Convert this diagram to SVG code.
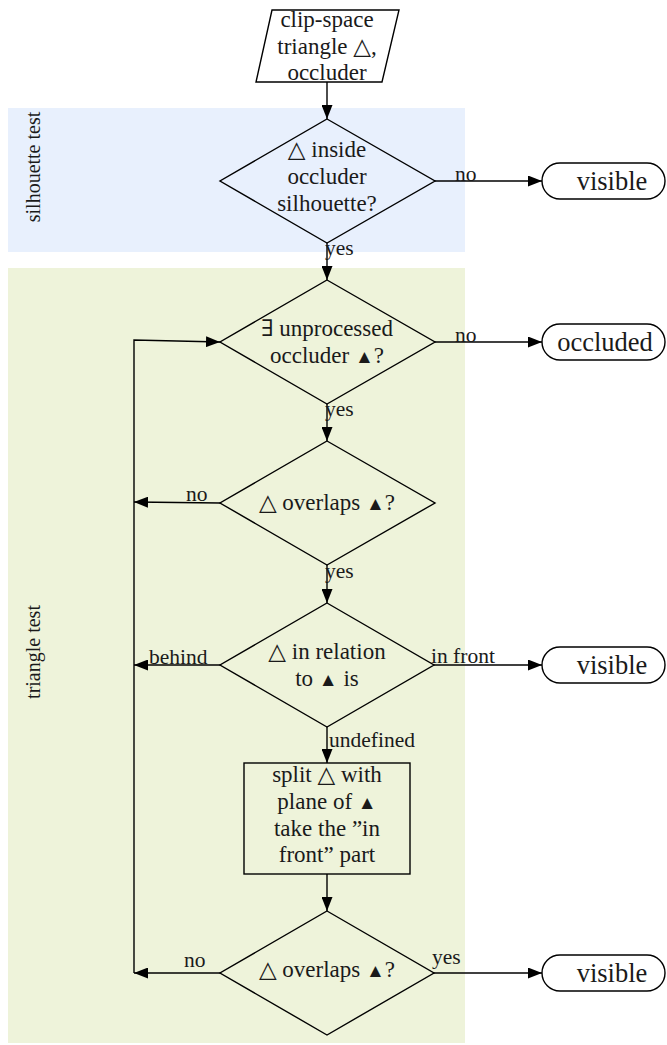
<svg xmlns="http://www.w3.org/2000/svg" width="667" height="1045" viewBox="0 0 667 1045">
  <style>
    .shape { fill: none; stroke: #000; stroke-width: 1.4; }
    .edge { fill: none; stroke: #000; stroke-width: 1.4; marker-end: url(#ah); }
    text { font-family: "Liberation Serif", "DejaVu Serif", serif; fill: #1a1a1a; }
    .node { font-size: 23px; text-anchor: middle; }
    .term { font-size: 26.5px; text-anchor: middle; }
    .lbl { font-size: 21.5px; }
    .band { font-size: 20px; text-anchor: middle; }
    .tri { font-size: 19px; }
  </style>
  <defs>
    <marker id="ah" markerWidth="14" markerHeight="11" refX="14" refY="5.5" orient="auto" markerUnits="userSpaceOnUse">
      <path d="M0,0 L14,5.5 L0,11 z" fill="#000"/>
    </marker>
  </defs>

  <!-- background bands with their rotated titles -->
  <g id="bands">
    <rect x="8" y="108" width="457" height="144" fill="#E8F0FD"/>
    <rect x="8" y="268" width="457" height="775" fill="#EEF3DA"/>
    <text class="band" transform="translate(40,167) rotate(-90)">silhouette test</text>
    <text class="band" transform="translate(40,652) rotate(-90)">triangle test</text>
  </g>

  <!-- connectors and their labels -->
  <g id="connectors">
    <path class="edge" d="M327,82 V119"/>
    <path class="edge" d="M435,181 H542"/>
    <path class="edge" d="M327,243 V280"/>
    <path class="edge" d="M435,342 H542"/>
    <path class="edge" d="M327,404 V441"/>
    <path class="edge" d="M220,503 L134,502"/>
    <path class="edge" d="M327,565 V603"/>
    <path class="edge" d="M220,665 H134"/>
    <path class="edge" d="M434,665 H542"/>
    <path class="edge" d="M327,727 V763"/>
    <path class="edge" d="M327,874 V911"/>
    <path class="edge" d="M220,973 H134"/>
    <path class="edge" d="M434,973 H542"/>
    <path class="edge" d="M134,973 V340 L220,342"/>
    <text class="lbl" x="455" y="181">no</text>
    <text class="lbl" x="325" y="255">yes</text>
    <text class="lbl" x="455" y="342">no</text>
    <text class="lbl" x="325" y="416">yes</text>
    <text class="lbl" x="186" y="501">no</text>
    <text class="lbl" x="325" y="578">yes</text>
    <text class="lbl" x="149" y="664">behind</text>
    <text class="lbl" x="431" y="663">in front</text>
    <text class="lbl" x="329" y="747">undefined</text>
    <text class="lbl" x="184" y="967">no</text>
    <text class="lbl" x="432" y="964">yes</text>
  </g>

  <g id="input">
    <path class="shape" d="M272,10 H399 L382,82 H256 Z"/>
    <text class="node" x="327" y="27">clip-space</text>
    <text class="node" x="327" y="54">triangle △,</text>
    <text class="node" x="327" y="80">occluder</text>
  </g>

  <g id="silhouette">
    <path class="shape" d="M327,119 L435,181 L327,243 L220,181 Z"/>
    <text class="node" x="327" y="157">△ inside</text>
    <text class="node" x="327" y="184">occluder</text>
    <text class="node" x="327" y="211">silhouette?</text>
  </g>

  <g id="visible-1">
    <rect class="shape" x="542" y="163" width="123" height="36" rx="18"/>
    <text class="term" x="612" y="190">visible</text>
  </g>

  <g id="unprocessed">
    <path class="shape" d="M327,280 L435,342 L327,404 L220,342 Z"/>
    <text class="node" x="327" y="336">∃ unprocessed</text>
    <text class="node" x="327" y="363">occluder <tspan class="tri">▲</tspan>?</text>
  </g>

  <g id="occluded">
    <rect class="shape" x="542" y="324" width="123" height="36" rx="18"/>
    <text class="term" x="605" y="351">occluded</text>
  </g>

  <g id="overlaps-1">
    <path class="shape" d="M327,441 L435,503 L327,565 L220,503 Z"/>
    <text class="node" x="327" y="510">△ overlaps <tspan class="tri">▲</tspan>?</text>
  </g>

  <g id="relation">
    <path class="shape" d="M327,603 L434,665 L327,727 L220,665 Z"/>
    <text class="node" x="327" y="659">△ in relation</text>
    <text class="node" x="327" y="686">to <tspan class="tri">▲</tspan> is</text>
  </g>

  <g id="visible-2">
    <rect class="shape" x="542" y="647" width="123" height="36" rx="18"/>
    <text class="term" x="612" y="674">visible</text>
  </g>

  <g id="split">
    <rect class="shape" x="244" y="763" width="166" height="111"/>
    <text class="node" x="327" y="782">split △ with</text>
    <text class="node" x="327" y="809">plane of <tspan class="tri">▲</tspan></text>
    <text class="node" x="327" y="836">take the ”in</text>
    <text class="node" x="327" y="862">front” part</text>
  </g>

  <g id="overlaps-2">
    <path class="shape" d="M327,911 L434,973 L327,1035 L220,973 Z"/>
    <text class="node" x="327" y="977">△ overlaps <tspan class="tri">▲</tspan>?</text>
  </g>

  <g id="visible-3">
    <rect class="shape" x="542" y="955" width="123" height="36" rx="18"/>
    <text class="term" x="612" y="982">visible</text>
  </g>
</svg>
